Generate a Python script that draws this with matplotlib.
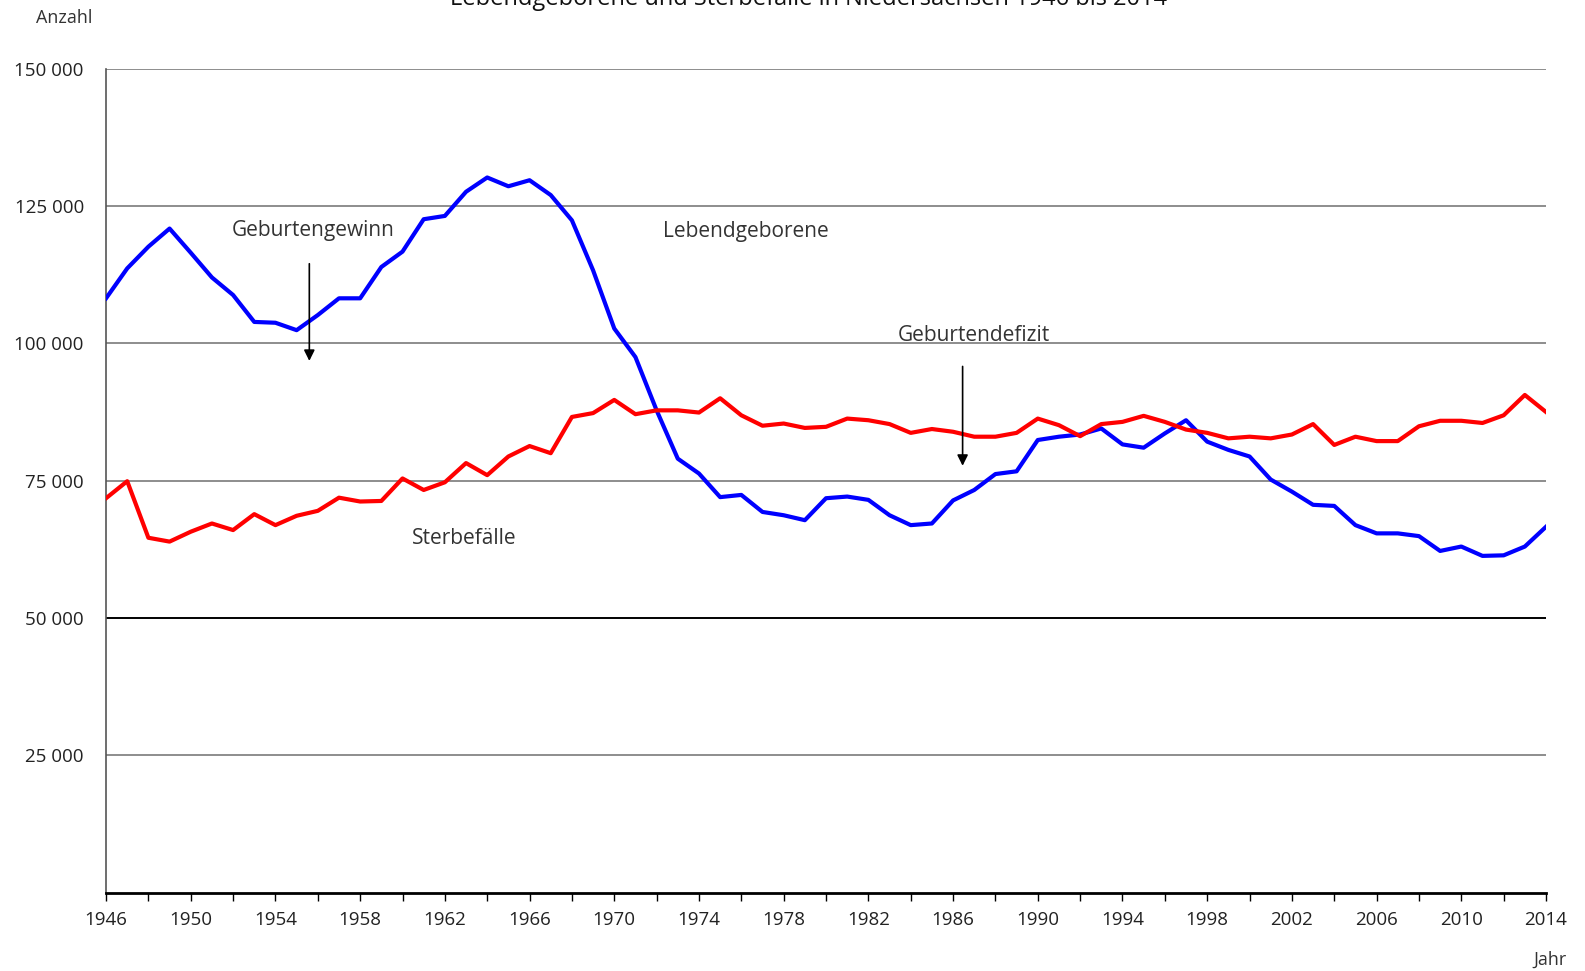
import numpy as np
import matplotlib.pyplot as plt
import matplotlib.ticker as mticker

plt.rcParams['font.family'] = ['Open Sans', 'DejaVu Sans']

# Daten
jahre = list(range(1946, 2015))
lebendgeborene = [
    108200, 113650, 117600, 120900, 116500, 112000, 108800, 103900, 103750, 102400,
    105150, 108200, 108200, 113900, 116700, 122600, 123200, 127600, 130200, 128600,
    129700, 127000, 122400, 113300, 102700, 97500, 87800, 79000, 76300, 72000,
    72400, 69300, 68700, 67800, 71800, 72100, 71500, 68700, 66900, 67200,
    71400, 73300, 76200, 76700, 82400, 83000, 83400, 84500, 81600, 81000,
    83600, 86000, 82100, 80600, 79400, 75200, 73000, 70600, 70400, 66900,
    65400, 65400, 64900, 62200, 63000, 61300, 61400, 63000, 66600,
]
sterbefaelle = [
    71800, 74900, 64600, 63900, 65700, 67200, 66000, 68900, 66900, 68600,
    69500, 71900, 71200, 71300, 75400, 73300, 74700, 78200, 76000, 79400,
    81300, 80000, 86600, 87300, 89700, 87100, 87800, 87800, 87400, 90000,
    86900, 85000, 85400, 84600, 84800, 86300, 86000, 85300, 83700, 84400,
    83900, 83000, 83000, 83700, 86300, 85100, 83100, 85300, 85700, 86800,
    85700, 84300, 83700, 82700, 83000, 82700, 83400, 85300, 81500, 83000,
    82200, 82200, 84900, 85900, 85900, 85500, 86900, 90600, 87500,
]
y_ticks = [25000, 50000, 75000, 100000, 125000, 150000]

fig = plt.figure(figsize=(15.85, 9.71), dpi=100)
ax = fig.add_axes([0.0669, 0.0808, 0.9085, 0.8484])

# Gitterlinien
for v in y_ticks:
    if v == 50000:
        ax.axhline(v, color='black', lw=1.4, zorder=1)
    else:
        ax.axhline(v, color='#7a7a7a', lw=1.2, zorder=1)

ax.plot(jahre, lebendgeborene, color='#0000ff', lw=3, zorder=3)
ax.plot(jahre, sterbefaelle, color='#ff0000', lw=3, zorder=3)

ax.set_xlim(1946, 2014)
ax.set_ylim(0, 150000)

ax.set_yticks(y_ticks)
ax.yaxis.set_major_formatter(mticker.FuncFormatter(lambda v, p: f'{int(v):,}'.replace(',', ' ')))
ax.tick_params(axis='y', length=0, pad=16, labelsize=13.5, labelcolor='#222222')

ax.set_xticks(range(1946, 2015, 4))
ax.set_xticks(range(1946, 2015, 2), minor=True)
ax.tick_params(axis='x', which='both', direction='out', length=6, width=1, color='black')
ax.tick_params(axis='x', which='major', pad=7, labelsize=13.5, labelcolor='#222222')

for s in ['top', 'right']:
    ax.spines[s].set_visible(False)
ax.spines['left'].set_color('#555555')
ax.spines['left'].set_linewidth(1.2)
ax.spines['bottom'].set_color('black')
ax.spines['bottom'].set_linewidth(2)

# Beschriftungen
kw = dict(fontsize=15, color='#333333', ha='center', va='center', zorder=4)
ax.text(1955.8, 120600, 'Geburtengewinn', **kw)
ax.text(1976.2, 120350, 'Lebendgeborene', **kw)
ax.text(1987.0, 101500, 'Geburtendefizit', **kw)
ax.text(1962.9, 64400, 'Sterbefälle', **kw)

arrow = dict(arrowstyle='-|>', color='black', lw=1.2, mutation_scale=16)
ax.annotate('', xy=(1955.6, 96300), xytext=(1955.6, 115000), arrowprops=arrow)
ax.annotate('', xy=(1986.45, 77200), xytext=(1986.45, 96300), arrowprops=arrow)

fig.text(64 / 1585, 1 - 18 / 971, 'Anzahl', fontsize=13, color='#333333', ha='center', va='center')
fig.text(1550 / 1585, 1 - 960 / 971, 'Jahr', fontsize=13, color='#333333', ha='center', va='center')
fig.text(809 / 1585, 1 + 1 / 971, 'Lebendgeborene und Sterbefälle in Niedersachsen 1946 bis 2014',
         fontsize=17, color='#111111', ha='center', va='center')

fig.savefig('out.png', dpi=100)
